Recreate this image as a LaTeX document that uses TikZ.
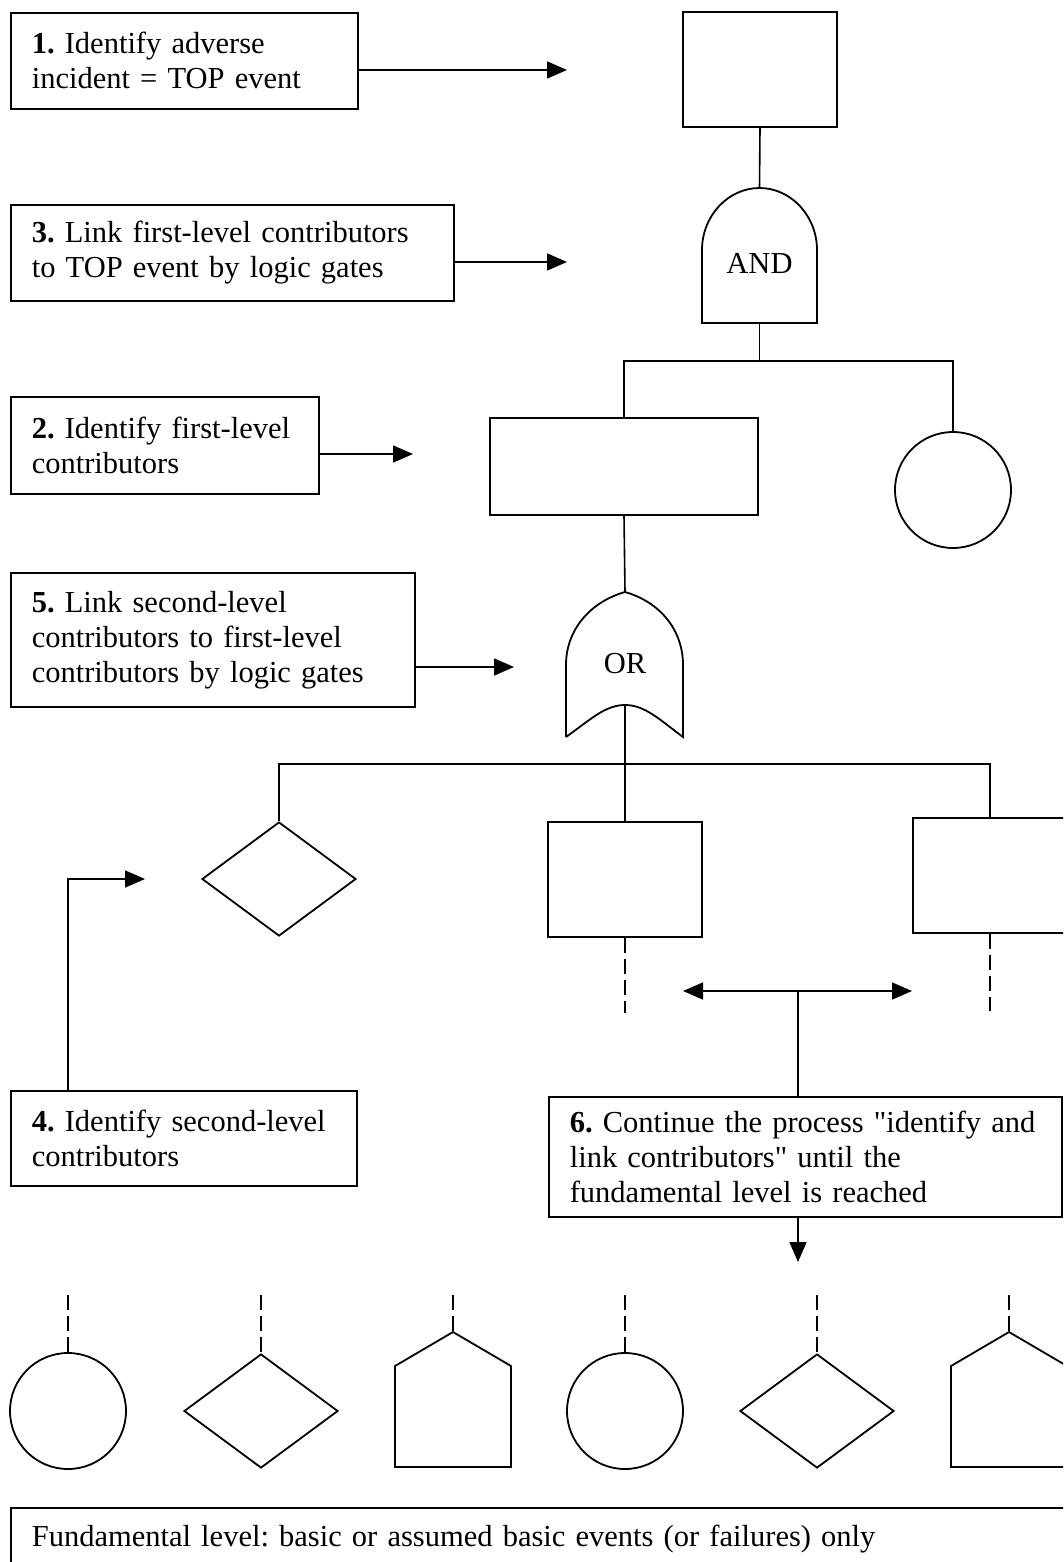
\documentclass[tikz,border=0pt]{standalone}
\usepackage{fontspec}
\setmainfont{Liberation Serif}
\usetikzlibrary{arrows.meta,shapes.geometric}
\frenchspacing

\tikzset{
  stepbox/.style={draw, line width=1.6pt, anchor=north west, align=left, inner xsep=21pt, inner ysep=0pt},
  event/.style={draw, line width=1.8pt, minimum width=154pt, minimum height=115pt, inner sep=0pt},
  basic/.style={draw, line width=1.8pt, circle, minimum size=116pt, inner sep=0pt},
  undev/.style={draw, line width=1.8pt, diamond, minimum width=154pt, minimum height=114pt, inner sep=0pt},
  link/.style={line width=1.6pt},
  cont/.style={line width=1.6pt, dash pattern=on 15pt off 6pt},
  pointer/.style={line width=1.6pt, -{Triangle[length=20pt,width=17pt]}},
  twoway/.style={line width=1.6pt, {Triangle[length=20pt,width=17pt]}-{Triangle[length=20pt,width=17pt]}}
}

\begin{document}
\begin{tikzpicture}[x=1pt, y=-1pt, font=\fontsize{30.5}{35}\selectfont]
    \useasboundingbox (0,0) rectangle (1063,1562);
    \clip (0,0) rectangle (1063,1562);

    % steps
    \node[stepbox, text width=305pt, minimum height=96pt] (s1) at (10,12) {\textbf{1.} Identify adverse\\incident = TOP event};
    \node[stepbox, text width=401pt, minimum height=96pt] (s3) at (10,204) {\textbf{3.} Link first-level contributors\\to TOP event by logic gates};
    \node[stepbox, text width=266pt, minimum height=97pt] (s2) at (10,396) {\textbf{2.} Identify first-level\\contributors};
    \node[stepbox, text width=362pt, minimum height=134pt] (s5) at (10,572) {\textbf{5.} Link second-level\\contributors to first-level\\contributors by logic gates};
    \node[stepbox, text width=304pt, minimum height=95pt] (s4) at (10,1090) {\textbf{4.} Identify second-level\\contributors};
    \node[stepbox, text width=471pt, minimum height=120pt] (s6) at (548,1096) {\textbf{6.} Continue the process \textquotedbl identify and\\link contributors\textquotedbl{} until the\\fundamental level is reached};
    \node[stepbox, text width=1100pt, inner ysep=17pt] (s7) at (10,1507) {Fundamental level: basic or assumed basic events (or failures) only};

    % tree
    \node[event] (top) at (760,69.5) {};
    \node[event, minimum width=268pt, minimum height=97pt] (first) at (624,466.5) {};
    \node[basic] (cir1) at (953,490) {};
    \node[undev] (dia1) at (279,879) {};
    \node[event] (mid) at (625,879.5) {};
    \node[event] (right) at (990,875.5) {};

    \coordinate (andin) at (759.5,188);
    \coordinate (andout) at (759.5,323);
    \coordinate (andbus) at (759.5,361);
    \coordinate (orin) at (625,592);
    \coordinate (orout) at (625,705);
    \coordinate (orbus) at (625,764);

    \draw[line width=1.8pt] (702,323) -- (702,250) .. controls (702,216) and (728,188) .. (andin)
        .. controls (791,188) and (817,216) .. (817,250) -- (817,323) -- cycle;
    \node at (759.5,263) {AND};
    \draw[line width=1.8pt] (566,737) -- (566,665) .. controls (566,630) and (590,602) .. (orin)
        .. controls (660,602) and (683,630) .. (683,665) -- (683,737)
        .. controls (660,720) and (645,705) .. (orout) .. controls (605,705) and (590,720) .. (566,737);
    \node at (625,664) {OR};

    \draw[link] (top.south) -- (andin);
    \draw[link] (andout) -- (andbus);
    \draw[link] (first.north) |- (andbus) -| (cir1.north);
    \draw[link] (first.south) -- (orin);
    \draw[link] (orout) -- (mid.north);
    \draw[link] (dia1.north) |- (orbus) -| (right.north);
    \draw[cont] (mid.south) -- ++(0,75);
    \draw[cont] (right.south) -- ++(0,77);

    % arrows from the steps
    \coordinate (p1) at (567,70);
    \coordinate (p3) at (567,262);
    \coordinate (p2) at (413,454);
    \coordinate (p5) at (514,667);
    \coordinate (p4) at (145,879);
    \coordinate (la) at (683,991);
    \coordinate (ra) at (912,991);
    \coordinate (mida) at (798,991);
    \coordinate (p6) at (798,1262);
    \draw[pointer] (s1.east |- p1) -- (p1);
    \draw[pointer] (s3.east |- p3) -- (p3);
    \draw[pointer] (s2.east |- p2) -- (p2);
    \draw[pointer] (s5.east |- p5) -- (p5);
    \draw[pointer] ([xshift=58pt]s4.north west) |- (p4);
    \draw[twoway] (la) -- (ra);
    \draw[link] (mida) -- (mida |- s6.north);
    \draw[pointer] (mida |- s6.south) -- (p6);

    % fundamental level
    \foreach \x/\s in {68/basic, 261/undev, 625/basic, 817/undev} {
        \node[\s] (b\x) at (\x,1411) {};
        \draw[cont] (\x,1295) -- (b\x.north);
    }
    \foreach \x in {453,1009} {
        \coordinate (b\x) at (\x,1332);
        \draw[line width=1.8pt] (b\x) -- ++(58,34) -- ++(0,101) -- ++(-116,0) -- ++(0,-101) -- cycle;
        \draw[cont] (\x,1295) -- (b\x);
    }
\end{tikzpicture}
\end{document}
